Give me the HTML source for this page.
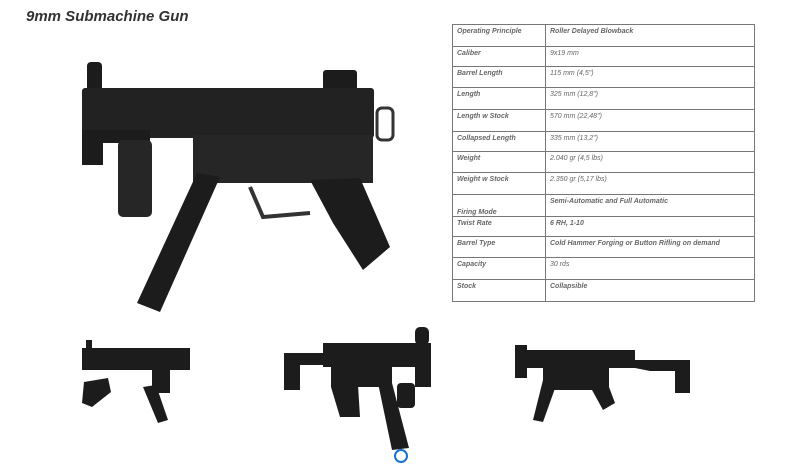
<!DOCTYPE html>
<html><head><style>
body{margin:0;width:802px;height:469px;background:#fff;position:relative;overflow:hidden;font-family:"Liberation Sans",sans-serif}
.t{position:absolute;left:26px;top:8px;font-size:15px;font-weight:bold;font-style:italic;color:#333}
table{position:absolute;left:452px;top:24px;width:303px;border-collapse:collapse;font-size:7px;font-weight:bold;font-style:italic;color:#666}
td{border:1.5px solid #777;padding:0 4px;vertical-align:top;padding-top:3px}
td:first-child{width:84px}
</style></head><body>
<div class="t">9mm Submachine Gun</div>
<table>
<tr style="height:22px"><td>Operating Principle</td><td>Roller Delayed Blowback</td></tr>
<tr style="height:20px"><td>Caliber</td><td style="font-weight:normal">9x19 mm</td></tr>
<tr style="height:21px"><td>Barrel Length</td><td style="font-weight:normal">115 mm (4,5")</td></tr>
<tr style="height:22px"><td>Length</td><td style="font-weight:normal">325 mm (12,8")</td></tr>
<tr style="height:22px"><td>Length w Stock</td><td style="font-weight:normal">570 mm (22,48")</td></tr>
<tr style="height:20px"><td>Collapsed Length</td><td style="font-weight:normal">335 mm (13,2")</td></tr>
<tr style="height:21px"><td>Weight</td><td style="font-weight:normal">2.040 gr (4,5 lbs)</td></tr>
<tr style="height:22px"><td>Weight w Stock</td><td style="font-weight:normal">2.350 gr (5,17 lbs)</td></tr>
<tr style="height:22px"><td style="vertical-align:bottom">Firing Mode</td><td>Semi-Automatic and Full Automatic</td></tr>
<tr style="height:20px"><td>Twist Rate</td><td>6 RH, 1-10</td></tr>
<tr style="height:21px"><td>Barrel Type</td><td>Cold Hammer Forging or Button Rifling on demand</td></tr>
<tr style="height:22px"><td>Capacity</td><td style="font-weight:normal">30 rds</td></tr>
<tr style="height:22px"><td>Stock</td><td>Collapsible</td></tr>
</table>
<svg width="802" height="469" style="position:absolute;left:0;top:0" fill="#1c1c1c">
<!-- main gun -->
<rect x="87" y="62" width="15" height="30" rx="4"/>
<rect x="323" y="70" width="34" height="22" rx="3"/>
<rect x="82" y="88" width="292" height="50" rx="3" fill="#222"/>
<polygon points="82,130 150,130 150,143 103,143 103,165 82,165"/>
<rect x="118" y="140" width="34" height="77" rx="5" fill="#262626"/>
<rect x="193" y="135" width="180" height="48" fill="#262626"/>
<polygon points="197,173 220,177 160,312 137,303"/>
<polygon points="310,180 360,178 390,247 363,270 333,223"/>
<path d="M250 187 L263 217 L310 213" stroke="#333" stroke-width="4" fill="none"/>
<rect x="377" y="108" width="16" height="32" rx="5" fill="none" stroke="#333" stroke-width="3"/>
<!-- small 1 -->
<rect x="82" y="348" width="108" height="22"/>
<rect x="86" y="340" width="6" height="10"/>
<rect x="152" y="367" width="18" height="26"/>
<polygon points="84,382 108,378 111,392 92,407 82,403"/>
<polygon points="143,387 156,385 168,420 158,423"/>
<!-- small 2 -->
<polygon points="284,353 331,353 331,365 300,365 300,390 284,390"/>
<rect x="323" y="343" width="108" height="24"/>
<rect x="415" y="327" width="14" height="18" rx="5"/>
<rect x="415" y="345" width="16" height="42"/>
<rect x="331" y="367" width="61" height="20"/>
<polygon points="331,387 358,385 360,417 340,417"/>
<polygon points="378,383 392,383 409,448 392,450"/>
<rect x="397" y="383" width="18" height="25" rx="4"/>
<!-- small 3 -->
<rect x="515" y="350" width="120" height="18"/>
<rect x="515" y="345" width="12" height="33"/>
<polygon points="629,360 690,360 690,393 675,393 675,371 650,371 635,368"/>
<rect x="543" y="368" width="66" height="22"/>
<polygon points="543,380 558,380 543,422 533,420"/>
<polygon points="592,390 609,387 615,403 603,410"/>
<circle cx="401" cy="456" r="6" fill="none" stroke="#1a73c8" stroke-width="2"/>
</svg>
</body></html>
